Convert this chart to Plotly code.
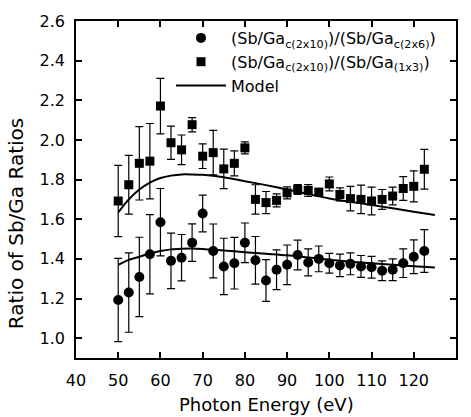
import plotly.graph_objects as go

# Photon energies (eV)
energy = [50, 52.5, 55, 57.5, 60, 62.5, 65, 67.5, 70, 72.5, 75, 77.5, 80, 82.5, 85,
          87.5, 90, 92.5, 95, 97.5, 100, 102.5, 105, 107.5, 110, 112.5, 115, 117.5, 120, 122.5]

# (Sb/Ga c(2x10)) / (Sb/Ga c(2x6))  -- circles
ratio_c2x6 = [1.193, 1.230, 1.309, 1.423, 1.585, 1.390, 1.406, 1.482, 1.629, 1.440, 1.362, 1.378, 1.481, 1.393, 1.291,
              1.345, 1.370, 1.420, 1.382, 1.400, 1.378, 1.367, 1.375, 1.362, 1.358, 1.340, 1.345, 1.378, 1.411, 1.440]
err_c2x6 = [0.21, 0.20, 0.20, 0.20, 0.17, 0.14, 0.117, 0.095, 0.093, 0.136, 0.142, 0.13, 0.10, 0.12, 0.105,
            0.10, 0.10, 0.075, 0.068, 0.065, 0.05, 0.057, 0.055, 0.055, 0.055, 0.05, 0.055, 0.072, 0.085, 0.108]

# (Sb/Ga c(2x10)) / (Sb/Ga (1x3))  -- squares
ratio_1x3 = [1.692, 1.774, 1.882, 1.893, 2.171, 1.986, 1.950, 2.077, 1.918, 1.936, 1.854, 1.882, 1.960, 1.700, 1.684,
             1.695, 1.733, 1.750, 1.745, 1.737, 1.778, 1.725, 1.704, 1.700, 1.692, 1.700, 1.717, 1.755, 1.766, 1.852]
err_1x3 = [0.18, 0.148, 0.185, 0.19, 0.14, 0.084, 0.075, 0.036, 0.062, 0.112, 0.10, 0.063, 0.03, 0.074, 0.056,
           0.033, 0.03, 0.025, 0.03, 0.012, 0.035, 0.033, 0.062, 0.072, 0.07, 0.05, 0.045, 0.06, 0.078, 0.10]

# Model curves
model_energy = [50, 52.5, 55, 57.5, 60, 62.5, 65, 67.5, 70, 75, 80, 85, 90, 95, 100, 105, 110, 115, 120, 125]
model_1x3 = [1.634, 1.700, 1.750, 1.785, 1.808, 1.820, 1.826, 1.826, 1.824, 1.812, 1.792, 1.772, 1.750, 1.727,
             1.705, 1.688, 1.672, 1.655, 1.638, 1.621]
model_c2x6 = [1.370, 1.395, 1.411, 1.428, 1.440, 1.448, 1.451, 1.452, 1.450, 1.442, 1.434, 1.426, 1.418, 1.407,
              1.396, 1.386, 1.378, 1.370, 1.363, 1.357]

x_ticks = [40, 50, 60, 70, 80, 90, 100, 110, 120, 130]
y_ticks = [1.0, 1.2, 1.4, 1.6, 1.8, 2.0, 2.2, 2.4, 2.6]

FONT = "DejaVu Sans, Arial, Helvetica, sans-serif"

fig = go.Figure()

fig.add_trace(go.Scatter(
    x=energy, y=ratio_c2x6, mode="markers",
    name="(Sb/Ga<sub>c(2x10)</sub>)/(Sb/Ga<sub>c(2x6)</sub>)",
    marker=dict(symbol="circle", size=10, color="black"),
    error_y=dict(type="data", array=err_c2x6, visible=True, color="black", thickness=1.2, width=4),
))
fig.add_trace(go.Scatter(
    x=energy, y=ratio_1x3, mode="markers",
    name="(Sb/Ga<sub>c(2x10)</sub>)/(Sb/Ga<sub>(1x3)</sub>)",
    marker=dict(symbol="square", size=9, color="black"),
    error_y=dict(type="data", array=err_1x3, visible=True, color="black", thickness=1.2, width=4),
))
fig.add_trace(go.Scatter(
    x=model_energy, y=model_1x3, mode="lines", name="Model",
    line=dict(color="black", width=2, shape="spline", smoothing=0.8),
))
fig.add_trace(go.Scatter(
    x=model_energy, y=model_c2x6, mode="lines", name="Model", showlegend=False,
    line=dict(color="black", width=2, shape="spline", smoothing=0.8),
))

axis_common = dict(
    showline=True, linecolor="black", linewidth=1.5, mirror="ticks",
    ticks="inside", ticklen=6, tickwidth=1.5, tickcolor="black",
    showgrid=False, zeroline=False,
    tickfont=dict(family=FONT, size=16, color="black"),
)

fig.update_xaxes(range=[40, 130], tickvals=x_ticks, ticktext=[str(v) for v in x_ticks],
                 ticklabelstandoff=7, **axis_common)
fig.update_yaxes(range=[0.9, 2.6], tickvals=y_ticks, ticktext=[f"{v:.1f}" for v in y_ticks],
                 ticklabelstandoff=6, **axis_common)

fig.add_annotation(text="Photon Energy (eV)", xref="paper", yref="paper",
                   x=0.5, y=-0.137, yanchor="middle", xanchor="center", showarrow=False,
                   font=dict(family=FONT, size=18, color="black"))
fig.add_annotation(text="Ratio of Sb/Ga Ratios", xref="paper", yref="paper",
                   x=-0.158, y=0.40, textangle=-90, xanchor="center", yanchor="middle",
                   showarrow=False, font=dict(family=FONT, size=20, color="black"))

fig.update_layout(
    width=471, height=417,
    margin=dict(l=76, r=15, t=15, b=59),
    paper_bgcolor="white", plot_bgcolor="white",
    font=dict(family=FONT, color="black"),
    legend=dict(x=0.25, y=1.0, xanchor="left", yanchor="top",
                bgcolor="rgba(0,0,0,0)", borderwidth=0,
                font=dict(family=FONT, size=16, color="black"),
                tracegroupgap=0, itemwidth=50),
)

fig.write_html("out.html")
